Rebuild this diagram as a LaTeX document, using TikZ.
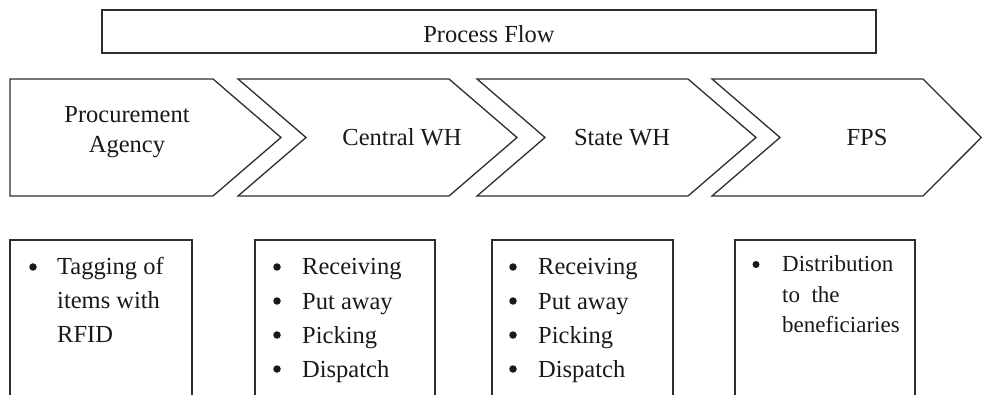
\documentclass[tikz,border=0pt]{standalone}
\usepackage{fontspec}
\setmainfont{Liberation Serif}
\begin{document}
\begin{tikzpicture}[x=1pt,y=-1pt,
  shapeline/.style={draw=black!82,line width=1.3pt,line join=miter},
  txt/.style={inner sep=0pt,text=black!90,font={\fontsize{24.5}{30}\selectfont}},
  smalltxt/.style={inner sep=0pt,text=black!90,font={\fontsize{23}{30.5}\selectfont}},
  bul/.style={circle,fill=black!90,inner sep=0pt,minimum size=7.5pt},
  item/.style={txt,anchor=base west}]
\clip (0,0) rectangle (982,395);
\useasboundingbox (0,0) rectangle (982,395);
\fill[white] (0,0) rectangle (982,395);

% title box
\draw[shapeline] (102,10) rectangle (876,53);
\node[txt,anchor=base] (title) at (489,43) {Process Flow};

% chevrons
\draw[shapeline] (10,79) -- (213,79) -- (281,137.5) -- (213,196) -- (10,196) -- cycle;
\draw[shapeline] (238,79) -- (449,79) -- (517,137.5) -- (449,196) -- (238,196) -- (306,137.5) -- cycle;
\draw[shapeline] (477,79) -- (688,79) -- (756,137.5) -- (688,196) -- (477,196) -- (545,137.5) -- cycle;
\draw[shapeline] (712,79) -- (923,79) -- (981.3,137.5) -- (923,196) -- (712,196) -- (780,137.5) -- cycle;

\node[txt,align=center] (pa) at (127,132.5) {Procurement\\Agency};
\node[txt,anchor=base] (cwh) at (402,146) {Central WH};
\node[txt,anchor=base] (swh) at (622,146) {State WH};
\node[txt,anchor=base] (fps) at (867,146) {FPS};

% bottom boxes (open at the bottom edge)
\draw[shapeline] (10,397) -- (10,240) -- (192,240) -- (192,397);
\draw[shapeline] (255,397) -- (255,240) -- (435,240) -- (435,397);
\draw[shapeline] (492,397) -- (492,240) -- (673,240) -- (673,397);
\draw[shapeline] (735,397) -- (735,240) -- (915,240) -- (915,397);

% box 1
\node[bul] (b1a) at (33,267) {};
\node[item,font={\fontsize{24.5}{33.5}\selectfont}] (t1a) at (57,275) {\parbox[t]{130pt}{\raggedright Tagging of\\items with\\RFID}};

% box 2
\node[bul] (b2a) at (277,267) {};
\node[item] (t2a) at (302,275) {Receiving};
\node[bul] (b2b) at (277,301) {};
\node[item] (t2b) at (302,309) {Put away};
\node[bul] (b2c) at (277,335) {};
\node[item] (t2c) at (302,343) {Picking};
\node[bul] (b2d) at (277,369) {};
\node[item] (t2d) at (302,377) {Dispatch};

% box 3
\node[bul] (b3a) at (513,267) {};
\node[item] (t3a) at (538,275) {Receiving};
\node[bul] (b3b) at (513,301) {};
\node[item] (t3b) at (538,309) {Put away};
\node[bul] (b3c) at (513,335) {};
\node[item] (t3c) at (538,343) {Picking};
\node[bul] (b3d) at (513,369) {};
\node[item] (t3d) at (538,377) {Dispatch};

% box 4
\node[bul,minimum size=7pt] (b4a) at (756,264.5) {};
\node[smalltxt,anchor=base west] (t4a) at (782,272) {\parbox[t]{130pt}{\raggedright Distribution\\to\ \ the\\beneficiaries}};
\end{tikzpicture}
\end{document}
